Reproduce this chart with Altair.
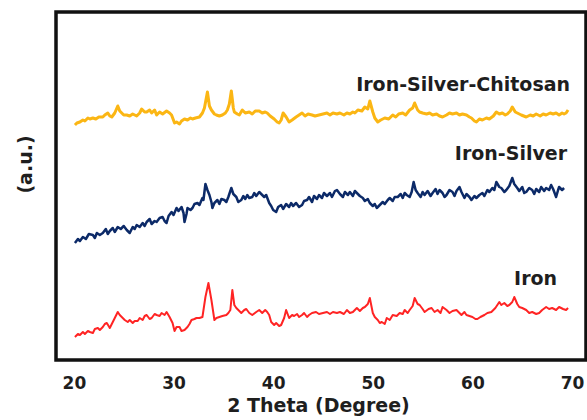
import altair as alt
import pandas as pd

# ---- data (2-theta in degrees, intensity in arbitrary units) ----
iron_theta = [20.1, 20.4, 20.6, 20.9, 21.1, 21.4, 21.6, 21.9, 22.1, 22.4, 22.6, 22.9, 23.1, 23.3, 23.6, 23.9,
              24.1, 24.4, 24.6, 24.9, 25.1, 25.4, 25.6, 25.9, 26.1, 26.4, 26.6, 26.9, 27.1, 27.3, 27.6, 27.8,
              28.1, 28.3, 28.6, 28.8, 29.1, 29.3, 29.6, 29.9, 30.1, 30.3, 30.6, 30.8, 31.1, 31.4, 31.6, 31.8,
              32.1, 32.3, 32.6, 32.9, 33.2, 33.5, 33.8, 34.1, 34.3, 34.6, 34.9, 35.3, 35.5, 35.7, 35.9, 36.1,
              36.3, 36.6, 36.8, 37.1, 37.3, 37.6, 37.9, 38.3, 38.6, 38.9, 39.2, 39.4, 39.6, 39.8, 40.1, 40.3,
              40.6, 40.8, 41.1, 41.3, 41.6, 41.9, 42.1, 42.4, 42.6, 42.9, 43.1, 43.4, 43.6, 43.9, 44.3, 44.6,
              45.0, 45.4, 45.7, 46.0, 46.4, 46.7, 47.1, 47.4, 47.7, 48.0, 48.4, 48.7, 49.0, 49.2, 49.5, 49.7,
              50.0, 50.2, 50.5, 50.7, 50.9, 51.2, 51.4, 51.7, 52.0, 52.4, 52.7, 53.0, 53.2, 53.5, 53.7, 54.0,
              54.2, 54.5, 54.7, 55.0, 55.2, 55.6, 55.9, 56.2, 56.5, 56.8, 57.0, 57.4, 57.7, 58.0, 58.4, 58.7,
              58.9, 59.2, 59.4, 59.7, 60.0, 60.3, 60.5, 60.8, 61.2, 61.5, 61.9, 62.3, 62.7, 62.9, 63.2, 63.5,
              63.7, 64.0, 64.2, 64.5, 64.7, 65.0, 65.4, 65.7, 66.0, 66.4, 66.7, 67.0, 67.4, 67.7, 68.0, 68.4,
              68.7, 69.1, 69.4, 69.6]
iron = [23, 26, 25, 28, 26, 29, 28, 27, 31, 32, 30, 33, 36, 37, 32, 38,
        42, 48, 45, 42, 40, 38, 40, 37, 39, 39, 42, 40, 44, 45, 41, 42,
        46, 45, 44, 47, 45, 48, 43, 37, 29, 33, 33, 29, 30, 33, 36, 40,
        41, 42, 42, 43, 63, 77, 60, 40, 42, 43, 44, 45, 47, 50, 70, 55,
        52, 49, 47, 50, 51, 47, 45, 48, 50, 47, 50, 48, 45, 38, 35, 37,
        34, 35, 42, 50, 42, 45, 44, 46, 43, 45, 47, 43, 45, 47, 48, 46,
        47, 48, 46, 48, 47, 48, 46, 50, 47, 48, 52, 49, 52, 53, 56, 62,
        47, 43, 40, 37, 38, 36, 42, 40, 45, 44, 47, 46, 50, 47, 50, 54,
        62, 56, 55, 51, 48, 51, 52, 48, 50, 47, 53, 50, 47, 49, 50, 47,
        45, 48, 45, 44, 43, 41, 41, 43, 45, 47, 48, 52, 58, 55, 57, 54,
        55, 58, 63, 56, 53, 52, 50, 47, 48, 46, 47, 50, 53, 51, 52, 50,
        53, 51, 50, 52]

isl_theta = [20.1, 20.4, 20.6, 20.9, 21.2, 21.5, 21.9, 22.1, 22.3, 22.6, 22.9, 23.2, 23.4, 23.6, 23.9, 24.1,
             24.4, 24.7, 25.0, 25.3, 25.6, 25.9, 26.1, 26.3, 26.6, 26.9, 27.1, 27.3, 27.6, 27.8, 28.1, 28.3,
             28.6, 28.9, 29.1, 29.3, 29.5, 29.8, 30.0, 30.3, 30.5, 30.8, 31.0, 31.1, 31.3, 31.4, 31.7, 31.9,
             32.1, 32.4, 32.6, 32.9, 33.0, 33.2, 33.4, 33.6, 33.8, 33.9, 34.1, 34.4, 34.6, 34.8, 35.1, 35.3,
             35.5, 35.8, 36.0, 36.3, 36.5, 36.8, 37.0, 37.2, 37.4, 37.6, 37.9, 38.1, 38.3, 38.6, 38.8, 39.1,
             39.3, 39.6, 39.8, 40.0, 40.3, 40.5, 40.8, 41.0, 41.3, 41.6, 41.8, 42.0, 42.3, 42.6, 42.9, 43.1,
             43.4, 43.6, 43.9, 44.1, 44.4, 44.6, 44.9, 45.1, 45.4, 45.7, 45.9, 46.2, 46.4, 46.7, 47.0, 47.2,
             47.5, 47.7, 48.0, 48.2, 48.4, 48.7, 49.0, 49.2, 49.5, 49.7, 50.0, 50.2, 50.4, 50.7, 51.0, 51.2,
             51.5, 51.7, 52.0, 52.2, 52.5, 52.8, 53.0, 53.2, 53.4, 53.7, 53.9, 54.1, 54.3, 54.5, 54.8, 55.0,
             55.2, 55.5, 55.8, 56.0, 56.3, 56.5, 56.7, 57.0, 57.2, 57.4, 57.7, 58.0, 58.2, 58.4, 58.7, 58.9,
             59.2, 59.4, 59.7, 59.9, 60.2, 60.4, 60.7, 61.0, 61.2, 61.5, 61.7, 62.0, 62.2, 62.4, 62.7, 62.9,
             63.2, 63.4, 63.7, 64.0, 64.2, 64.5, 64.7, 65.0, 65.2, 65.4, 65.7, 66.0, 66.2, 66.4, 66.7, 66.9,
             67.2, 67.4, 67.7, 67.9, 68.1, 68.4, 68.6, 68.7, 69.0, 69.2]
iron_silver = [117, 121, 119, 123, 121, 126, 125, 122, 127, 125, 127, 131, 126, 129, 132, 128,
               133, 131, 134, 130, 127, 133, 131, 135, 133, 137, 134, 138, 141, 136, 139, 138,
               142, 143, 139, 137, 144, 148, 145, 152, 149, 153, 147, 138, 146, 152, 150, 152,
               156, 157, 155, 162, 160, 176, 170, 165, 158, 152, 157, 160, 156, 161, 160, 158,
               163, 172, 166, 163, 158, 160, 164, 161, 165, 162, 163, 167, 164, 168, 166, 163,
               165, 157, 154, 150, 148, 153, 155, 151, 156, 153, 157, 154, 157, 153, 155, 159,
               160, 163, 158, 164, 161, 165, 162, 167, 164, 167, 163, 169, 170, 166, 163, 168,
               165, 168, 164, 169, 167, 164, 162, 159, 161, 157, 154, 156, 152, 155, 158, 156,
               160, 162, 159, 163, 163, 166, 162, 167, 165, 163, 168, 178, 170, 167, 163, 168,
               165, 169, 164, 167, 171, 166, 170, 167, 163, 165, 170, 168, 164, 169, 173, 168,
               162, 166, 163, 160, 164, 162, 165, 167, 164, 170, 168, 172, 170, 178, 173, 172,
               168, 170, 174, 182, 176, 172, 169, 173, 167, 168, 172, 170, 166, 171, 168, 173,
               169, 172, 170, 175, 171, 163, 170, 173, 170, 172]

isc_theta = [20.1, 20.3, 20.6, 20.9, 21.1, 21.4, 21.6, 21.9, 22.2, 22.5, 22.9, 23.1, 23.4, 23.6, 23.8, 24.1,
             24.4, 24.6, 24.8, 25.0, 25.3, 25.6, 25.9, 26.3, 26.6, 26.8, 27.1, 27.3, 27.6, 27.8, 28.1, 28.3,
             28.6, 28.9, 29.3, 29.6, 29.8, 30.1, 30.3, 30.6, 30.8, 31.1, 31.4, 31.7, 31.9, 32.2, 32.6, 32.9,
             33.1, 33.4, 33.6, 33.8, 34.1, 34.3, 34.6, 34.9, 35.2, 35.4, 35.6, 35.8, 36.0, 36.1, 36.4, 36.6,
             36.9, 37.2, 37.6, 37.9, 38.2, 38.6, 38.9, 39.2, 39.4, 39.7, 40.1, 40.4, 40.6, 40.8, 41.0, 41.3,
             41.6, 41.9, 42.3, 42.6, 42.9, 43.2, 43.5, 43.9, 44.2, 44.6, 45.0, 45.4, 45.7, 46.0, 46.4, 46.7,
             47.1, 47.4, 47.7, 48.0, 48.2, 48.5, 48.9, 49.2, 49.5, 49.7, 50.0, 50.2, 50.5, 50.8, 51.2, 51.6,
             52.0, 52.3, 52.6, 53.0, 53.3, 53.7, 54.0, 54.2, 54.5, 54.7, 55.0, 55.4, 55.7, 56.0, 56.4, 56.7,
             57.0, 57.4, 57.7, 58.0, 58.4, 58.7, 59.0, 59.4, 59.7, 59.9, 60.2, 60.4, 60.7, 61.0, 61.4, 61.7,
             62.1, 62.4, 62.7, 63.0, 63.3, 63.5, 63.8, 64.0, 64.3, 64.5, 64.9, 65.4, 65.8, 66.1, 66.4, 66.8,
             67.1, 67.4, 67.8, 68.1, 68.4, 68.7, 69.0, 69.2, 69.4, 69.6]
iron_silver_chitosan = [235, 237, 238, 240, 239, 242, 241, 242, 241, 243, 243, 245, 247, 244, 243, 247,
                        254, 249, 247, 245, 245, 244, 246, 244, 247, 251, 248, 248, 250, 247, 250, 245,
                        248, 246, 249, 247, 245, 237, 238, 236, 239, 241, 240, 242, 241, 242, 243, 247,
                        252, 268, 254, 250, 246, 245, 244, 245, 247, 250, 256, 269, 252, 248, 246, 245,
                        250, 247, 248, 246, 249, 249, 247, 248, 247, 244, 241, 238, 237, 240, 247, 243,
                        238, 240, 243, 245, 247, 244, 246, 245, 244, 245, 246, 247, 245, 247, 246, 247,
                        245, 247, 246, 248, 247, 250, 249, 253, 251, 259, 248, 242, 238, 240, 242, 241,
                        245, 243, 246, 247, 245, 250, 252, 257, 250, 248, 247, 246, 247, 245, 246, 244,
                        243, 245, 247, 246, 247, 245, 246, 245, 243, 242, 239, 238, 241, 240, 242, 241,
                        244, 248, 246, 247, 245, 246, 249, 253, 248, 247, 245, 243, 245, 244, 246, 244,
                        246, 245, 247, 246, 247, 245, 247, 246, 247, 250]

series = ["Iron", "Iron-Silver", "Iron-Silver-Chitosan"]
series_colors = ["#ff2424", "#0c2a68", "#fbb614"]
series_widths = [2.0, 3.0, 2.0]

label_text = ["Iron", "Iron-Silver", "Iron-Silver-Chitosan"]
label_theta = [68.5, 69.5, 69.8]
label_value = [81, 206, 275]

# ---- build tables ----
rows = []
for name, xs, ys in [("Iron", iron_theta, iron),
                     ("Iron-Silver", isl_theta, iron_silver),
                     ("Iron-Silver-Chitosan", isc_theta, iron_silver_chitosan)]:
    for xv, yv in zip(xs, ys):
        rows.append({"sample": name, "theta": xv, "intensity": yv})
df = pd.DataFrame(rows)
labels_df = pd.DataFrame({"label": label_text, "theta": label_theta, "intensity": label_value})

FONT = "DejaVu Sans"
x_scale = alt.Scale(domain=[18.2, 71.4], nice=False, zero=False)
y_scale = alt.Scale(domain=[0, 348], nice=False, zero=False)

x_enc = alt.X("theta:Q", scale=x_scale,
              axis=alt.Axis(values=[20, 30, 40, 50, 60, 70], ticks=False, domain=False, grid=False,
                            labelFont=FONT, labelFontWeight="bold", labelFontSize=17, labelColor="#1e1e1e",
                            labelBaseline="alphabetic", labelPadding=28,
                            title="2 Theta (Degree)", titleFont=FONT, titleFontWeight="bold",
                            titleFontSize=19, titleColor="#1e1e1e", titleBaseline="alphabetic",
                            titleY=51, titleX=262))
y_enc = alt.Y("intensity:Q", scale=y_scale,
              axis=alt.Axis(labels=False, ticks=False, domain=False, grid=False,
                            title="(a.u.)", titleFont=FONT, titleFontWeight="bold", titleFontSize=19,
                            titleColor="#1e1e1e", titleAngle=270, titleAlign="center",
                            titleBaseline="middle", titleX=-31, titleY=152))

lines = alt.Chart(df).mark_line(strokeJoin="round").encode(
    x=x_enc,
    y=y_enc,
    color=alt.Color("sample:N", scale=alt.Scale(domain=series, range=series_colors), legend=None),
    size=alt.Size("sample:N", scale=alt.Scale(domain=series, range=series_widths), legend=None),
    detail="sample:N",
)

texts = alt.Chart(labels_df).mark_text(
    align="right", baseline="middle", font=FONT, fontWeight="bold", fontSize=19, color="#1e1e1e"
).encode(
    x=alt.X("theta:Q", scale=x_scale),
    y=alt.Y("intensity:Q", scale=y_scale),
    text="label:N",
)

chart = alt.layer(lines, texts).properties(
    width=530, height=348,
    autosize=alt.AutoSizeParams(type="none"),
    padding={"left": 56, "top": 12, "right": 1, "bottom": 60},
    background="white",
).configure_view(stroke="#111111", strokeWidth=3.5)

chart.save("out.html", embed_options={"renderer": "svg", "actions": False})
